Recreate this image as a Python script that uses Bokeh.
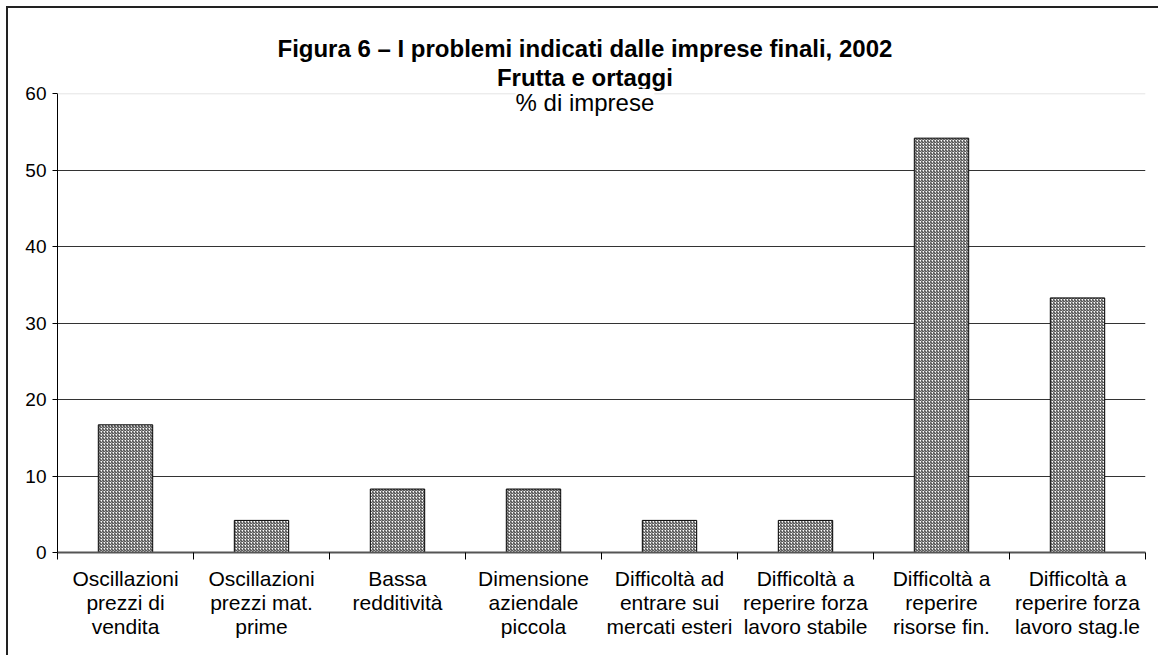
from bokeh.plotting import figure
from bokeh.models import Range1d, FixedTicker, Label, Span
from bokeh.embed import file_html
from bokeh.resources import INLINE

# ---- data ----
categories = [
    "Oscillazioni\nprezzi di\nvendita",
    "Oscillazioni\nprezzi mat.\nprime",
    "Bassa\nredditività",
    "Dimensione\naziendale\npiccola",
    "Difficoltà ad\nentrare sui\nmercati esteri",
    "Difficoltà a\nreperire forza\nlavoro stabile",
    "Difficoltà a\nreperire\nrisorse fin.",
    "Difficoltà a\nreperire forza\nlavoro stag.le",
]
values = [16.7, 4.2, 8.3, 8.3, 4.2, 4.2, 54.2, 33.3]
y_ticks = [0, 10, 20, 30, 40, 50, 60]
title_line1 = "Figura 6 – I problemi indicati dalle imprese finali, 2002"
title_line2 = "Frutta e ortaggi"
title_line3 = "% di imprese"

FONT = "Liberation Sans"

n = len(categories)
centers = [i + 0.5 for i in range(n)]
boundaries = [float(i) for i in range(0, n + 1)]

# frame reaches the top of the canvas so the titles can live inside it
FRAME_H = 544.0
Y60_PX = 85.3
y_top = y_ticks[-1] * FRAME_H / (FRAME_H - Y60_PX)

p = figure(width=1150, height=647, output_backend="svg", toolbar_location=None,
           title_location=None,
           x_range=Range1d(0, n), y_range=Range1d(y_ticks[0], y_top),
           min_border_left=49, min_border_right=13, min_border_top=0, min_border_bottom=103)
p.styles = {"margin-left": "8px", "margin-top": "8px", "outline": "2px solid #222222"}
p.outline_line_color = None
p.background_fill_color = "white"
p.border_fill_color = "white"

p.vbar(x=centers, top=values, width=0.40, bottom=0,
       fill_color="white", line_color="black", line_width=1,
       hatch_pattern="right_diagonal_line", hatch_scale=3, hatch_weight=1,
       hatch_color="#2a2a2a")

# x axis
xa = p.xaxis[0]
xa.ticker = FixedTicker(ticks=centers, minor_ticks=boundaries)
xa.major_label_overrides = {c: lab for c, lab in zip(centers, categories)}
xa.major_tick_out = 0
xa.major_tick_in = 0
xa.minor_tick_out = 7
xa.minor_tick_in = 0
xa.minor_tick_line_color = "black"
xa.axis_line_color = "#555555"
xa.axis_line_width = 2
xa.major_label_text_font = FONT
xa.major_label_text_font_size = "21px"
xa.major_label_text_color = "black"
xa.major_label_text_line_height = 1.05
xa.major_label_standoff = 7

# y axis
ya = p.yaxis[0]
ya.ticker = FixedTicker(ticks=y_ticks)
ya.bounds = (y_ticks[0], y_ticks[-1])
ya.major_tick_out = 5
ya.major_tick_in = 0
ya.minor_tick_line_color = None
ya.axis_line_color = "black"
ya.major_label_text_font = FONT
ya.major_label_text_font_size = "19px"
ya.major_label_text_color = "black"
ya.major_label_standoff = 6

p.xgrid.grid_line_color = None
p.ygrid.ticker = FixedTicker(ticks=y_ticks[1:-1])
p.ygrid.grid_line_color = "#333333"
p.ygrid.grid_line_width = 1
p.add_layout(Span(location=y_ticks[-1], dimension="width", line_color="#e4e4e4", line_width=1))

tx = 3.878
p.add_layout(Label(x=tx, y=65.93, text=title_line1, text_align="center", text_baseline="alphabetic",
                   text_font=FONT, text_font_size="24px", text_font_style="bold", text_color="black"))
p.add_layout(Label(x=tx, y=62.13, text=title_line2, text_align="center", text_baseline="alphabetic",
                   text_font=FONT, text_font_size="24px", text_font_style="bold", text_color="black"))
p.add_layout(Label(x=tx, y=58.86, text=title_line3, text_align="center", text_baseline="alphabetic",
                   text_font=FONT, text_font_size="24px", text_color="black",
                   background_fill_color="white"))

open("out.html", "w").write(file_html(p, INLINE))
